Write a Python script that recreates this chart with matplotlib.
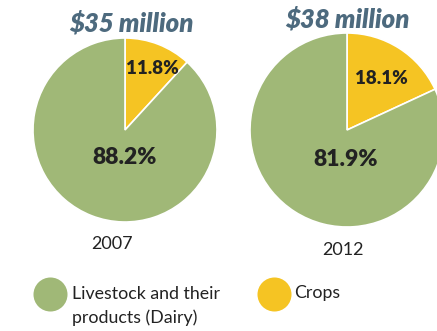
import matplotlib
matplotlib.use("Agg")
import matplotlib.pyplot as plt

years = ["2007", "2012"]
totals = ["$35 million", "$38 million"]
categories = ["Crops", "Livestock and their\nproducts (Dairy)"]
crops_pct = [11.8, 18.1]
livestock_pct = [88.2, 81.9]

GREEN = "#a0b877"
YELLOW = "#f5c423"
TITLE = "#4d6a7e"
W, H = 437, 331

plt.rcParams['font.family'] = ['Lato', 'DejaVu Sans']
fig = plt.figure(figsize=(W / 100, H / 100), dpi=100)
ax = fig.add_axes([0, 0, 1, 1])

def Y(y):
    return H - y

pies = [dict(c=(125, 130), r=92, title=(131, 23), year=(112, 244),
             lc=(152, 68), ll=(125, 158)),
        dict(c=(347, 130), r=97, title=(347, 19), year=(343, 250),
             lc=(381, 78), ll=(346, 160))]

for i, p in enumerate(pies):
    ax.pie([crops_pct[i], livestock_pct[i]], colors=[YELLOW, GREEN],
           center=(p['c'][0], Y(p['c'][1])), radius=p['r'], startangle=90,
           counterclock=False, frame=True,
           wedgeprops=dict(edgecolor='white', linewidth=1.2))
    ax.text(p['title'][0], Y(p['title'][1]), totals[i], ha='center', va='center',
            fontsize=18.5, fontweight='heavy', fontstyle='italic', color=TITLE)
    ax.text(p['year'][0], Y(p['year'][1]), years[i], ha='center', va='center',
            fontsize=13, color='#222222')
    ax.text(p['lc'][0], Y(p['lc'][1]), f"{crops_pct[i]}%", ha='center', va='center',
            fontsize=13.5, fontweight='heavy', color='#222222')
    ax.text(p['ll'][0], Y(p['ll'][1]), f"{livestock_pct[i]}%", ha='center', va='center',
            fontsize=16.5, fontweight='heavy', color='#222222')

# legend
ax.scatter([50], [Y(294)], s=600, color=GREEN, linewidths=0)
ax.text(72, Y(306), categories[1], ha='left', va='center', fontsize=12.8,
        color='#222222', linespacing=1.5)
ax.scatter([274], [Y(294)], s=600, color=YELLOW, linewidths=0)
ax.text(294, Y(293), categories[0], ha='left', va='center', fontsize=12.8,
        color='#222222')

ax.set_xlim(0, W)
ax.set_ylim(0, H)
ax.set_aspect('equal')
ax.axis('off')
fig.savefig("out.png", dpi=100)
